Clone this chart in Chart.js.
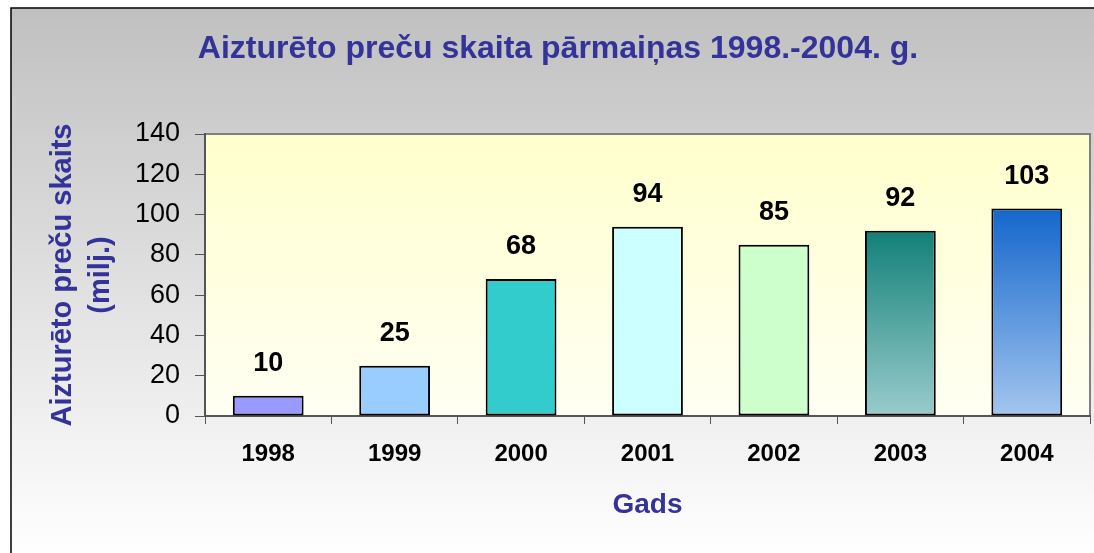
<!DOCTYPE html>
<html lang="lv">
<head>
  <meta charset="UTF-8" />
  <title>Aizturēto preču skaita pārmaiņas</title>
  <script src="https://cdn.jsdelivr.net/npm/chart.js"></script>
  <style>
    html, body {
      margin: 0;
      padding: 0;
      background: #fff;
    }
    #wrap {
      width: 1094px;
      height: 553px;
    }
  </style>
</head>
<body>
  <div id="wrap"><canvas id="chart"></canvas></div>

  <script>
    const categories = ['1998', '1999', '2000', '2001', '2002', '2003', '2004'];
    const values = [10, 25, 68, 94, 85, 92, 103];
    // top and bottom colour of each bar (same = flat fill)
    const barTopColors = ['#9999ff', '#99ccff', '#33cccc', '#ccffff', '#ccffcc', '#128078', '#1466cc'];
    const barBottomColors = ['#9999ff', '#99ccff', '#33cccc', '#ccffff', '#ccffcc', '#99cccc', '#a3c6ee'];
    const yMin = 0, yMax = 140, yStep = 20;

    const FONT = "'Liberation Sans', Arial, sans-serif";
    const BLUE = '#333399';

    const backgroundPlugin = {
      id: 'background',
      beforeDraw: chart => {
        const { ctx, width, height, chartArea: a } = chart;
        ctx.save();
        ctx.fillStyle = '#fff';
        ctx.fillRect(0, 0, width, height);
        const g = ctx.createLinearGradient(0, 8, 0, height);
        g.addColorStop(0, '#c0c0c0');
        g.addColorStop(1, '#ffffff');
        ctx.fillStyle = g;
        ctx.fillRect(11, 8, width - 11, height - 8);
        ctx.strokeStyle = '#000';
        ctx.lineWidth = 1.5;
        ctx.beginPath();
        ctx.moveTo(11, height);
        ctx.lineTo(11, 8);
        ctx.lineTo(width, 8);
        ctx.stroke();

        const pg = ctx.createLinearGradient(0, a.top, 0, a.bottom);
        pg.addColorStop(0, '#ffffcc');
        pg.addColorStop(1, '#fffff4');
        ctx.fillStyle = pg;
        ctx.fillRect(a.left, a.top, a.right - a.left, a.bottom - a.top);
        ctx.strokeStyle = '#808080';
        ctx.lineWidth = 2;
        ctx.beginPath();
        ctx.moveTo(a.left, a.top);
        ctx.lineTo(a.right, a.top);
        ctx.lineTo(a.right, a.bottom);
        ctx.stroke();
        ctx.restore();
      }
    };

    const valueLabels = {
      id: 'valueLabels',
      afterDatasetsDraw: chart => {
        const { ctx } = chart;
        const meta = chart.getDatasetMeta(0);
        ctx.save();
        ctx.font = `bold 27px ${FONT}`;
        ctx.fillStyle = '#000';
        ctx.textAlign = 'center';
        ctx.textBaseline = 'middle';
        meta.data.forEach((bar, i) => {
          ctx.fillText(String(values[i]), bar.x, bar.y - 32);
        });
        ctx.restore();
      }
    };

    function barFill(context) {
      const i = context.dataIndex;
      const chart = context.chart;
      if (!chart.chartArea || barTopColors[i] === barBottomColors[i]) return barTopColors[i];
      const y = chart.scales.y;
      const g = chart.ctx.createLinearGradient(0, y.getPixelForValue(values[i]), 0, y.getPixelForValue(0));
      g.addColorStop(0, barTopColors[i]);
      g.addColorStop(1, barBottomColors[i]);
      return g;
    }

    new Chart(document.getElementById('chart'), {
      type: 'bar',
      data: {
        labels: categories,
        datasets: [{
          data: values,
          backgroundColor: barFill,
          borderColor: '#000',
          borderWidth: 2,
          borderSkipped: false,
          barPercentage: 0.56,
          categoryPercentage: 1
        }]
      },
      options: {
        responsive: true,
        maintainAspectRatio: false,
        animation: false,
        layout: { padding: { left: 26, right: 4, top: 0, bottom: 0 } },
        plugins: {
          legend: { display: false },
          tooltip: { enabled: false },
          title: {
            display: true,
            text: 'Aizturēto preču skaita pārmaiņas 1998.-2004. g.',
            color: BLUE,
            font: { family: FONT, size: 32, weight: 'bold', lineHeight: 1.2 },
            padding: { top: 30, bottom: 65.6 }
          }
        },
        scales: {
          x: {
            afterFit: s => { s.height = 137; },
            grid: { drawOnChartArea: false, tickLength: 8, color: '#555', offset: true },
            border: { color: '#555', width: 2 },
            ticks: {
              color: '#000',
              maxRotation: 0,
              padding: 16,
              font: { family: FONT, size: 24, weight: 'bold' }
            },
            title: {
              display: true,
              text: 'Gads',
              color: BLUE,
              font: { family: FONT, size: 28, weight: 'bold', lineHeight: 1.2 },
              padding: { top: 0, bottom: 31 }
            }
          },
          y: {
            min: yMin,
            max: yMax,
            afterFit: s => { s.width = 179; },
            grid: { drawOnChartArea: false, tickLength: 10, color: '#555' },
            border: { color: '#555', width: 2 },
            ticks: {
              stepSize: yStep,
              color: '#000',
              padding: 15,
              font: { family: FONT, size: 27 }
            },
            title: {
              display: true,
              text: ['Aizturēto preču skaits', '(milj.)'],
              color: BLUE,
              font: { family: FONT, size: 29, weight: 'bold', lineHeight: 1.3 },
              padding: { top: 18, bottom: 0 }
            }
          }
        }
      },
      plugins: [backgroundPlugin, valueLabels]
    });
  </script>
</body>
</html>
